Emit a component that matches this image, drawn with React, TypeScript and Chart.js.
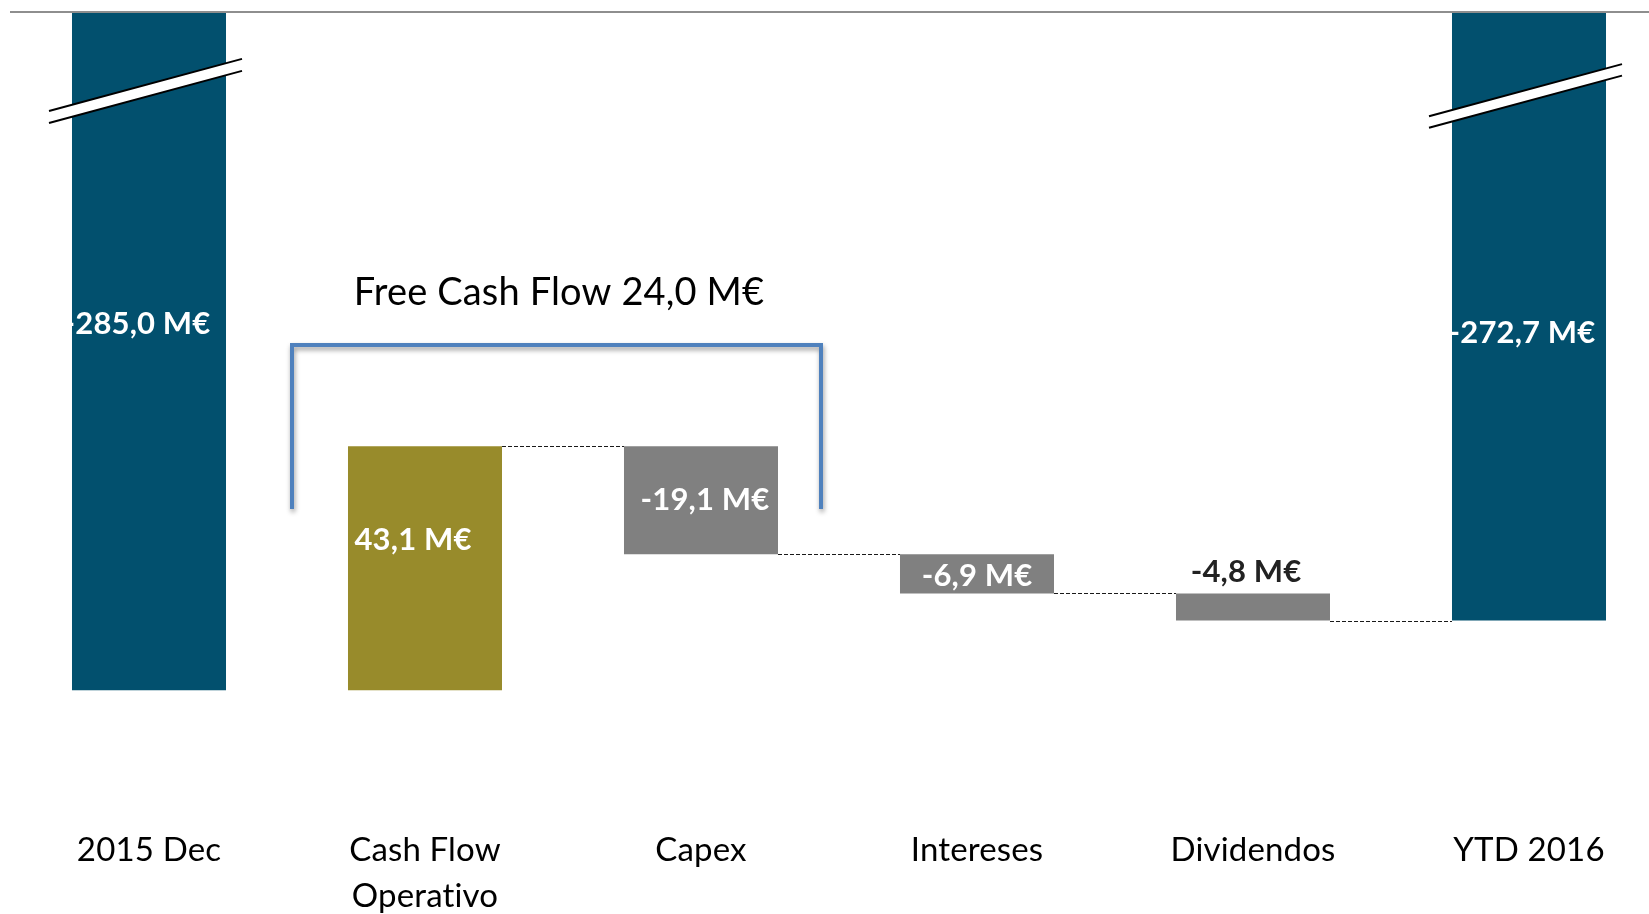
import React, { useEffect, useRef } from "react";
import { Chart, registerables } from "chart.js";

Chart.register(...registerables);

// ---- data ----
const categories: string[][] = [
  ["2015 Dec"],
  ["Cash Flow", "Operativo"],
  ["Capex"],
  ["Intereses"],
  ["Dividendos"],
  ["YTD 2016"],
];
const startValue = -285.0;
const movements = [43.1, -19.1, -6.9, -4.8];
const endValue = -272.7;
const valueLabels = ["-285,0 M€", "43,1 M€", "-19,1 M€", "-6,9 M€", "-4,8 M€", "-272,7 M€"];
const bracketTitle = "Free Cash Flow 24,0 M€";

// visible (broken) value range of the axis
const AXIS_TOP = -165.2;
const AXIS_BOTTOM = -304.4;

// ---- derived floating bars ----
const floatingBars: [number, number][] = [];
const levels: number[] = [];
floatingBars.push([startValue, AXIS_TOP]);
{
  let level = startValue;
  for (const m of movements) {
    floatingBars.push([level, +(level + m).toFixed(1)]);
    level = +(level + m).toFixed(1);
    levels.push(level);
  }
}
floatingBars.push([endValue, AXIS_TOP]);

const NAVY = "#02506E";
const OLIVE = "#988B2B";
const GREY = "#808080";
const barColors = [NAVY, OLIVE, GREY, GREY, GREY, NAVY];

const spacing = {
  id: "spacing",
  beforeDraw(chart: any) {
    // non-zero letter spacing also turns off the "ti" ligature
    (chart.ctx as any).letterSpacing = "0.15px";
  },
};

const overlay = {
  id: "overlay",
  afterDatasetsDraw(chart: any) {
    const { ctx, chartArea, scales } = chart;
    const bars = chart.getDatasetMeta(0).data;
    const y = scales.y;
    ctx.save();

    // top axis line
    ctx.strokeStyle = "#8E8E8E";
    ctx.lineWidth = 2;
    ctx.beginPath();
    ctx.moveTo(chartArea.left - 1, chartArea.top);
    ctx.lineTo(chartArea.right, chartArea.top);
    ctx.stroke();

    // break marks on total bars
    const drawBreak = (bar: any, cy: number, gap: number) => {
      const x1 = bar.x - 100;
      const x2 = bar.x + 93;
      const slope = -0.27;
      const yU = (x: number) => cy - gap / 2 + slope * (x - bar.x);
      ctx.fillStyle = "#ffffff";
      ctx.beginPath();
      ctx.moveTo(x1, yU(x1));
      ctx.lineTo(x2, yU(x2));
      ctx.lineTo(x2, yU(x2) + gap);
      ctx.lineTo(x1, yU(x1) + gap);
      ctx.closePath();
      ctx.fill();
      ctx.strokeStyle = "#000000";
      ctx.lineWidth = 2;
      ctx.beginPath();
      ctx.moveTo(x1, yU(x1));
      ctx.lineTo(x2, yU(x2));
      ctx.moveTo(x1, yU(x1) + gap);
      ctx.lineTo(x2, yU(x2) + gap);
      ctx.stroke();
    };
    drawBreak(bars[0], chartArea.top + 78, 12);
    drawBreak(bars[5], chartArea.top + 83, 11.5);

    // dashed connectors
    ctx.strokeStyle = "#1A1A1A";
    ctx.lineWidth = 1;
    ctx.setLineDash([4, 2]);
    for (let i = 0; i < levels.length; i++) {
      const a = bars[i + 1];
      const b = bars[i + 2];
      const py = Math.round(y.getPixelForValue(levels[i])) + 0.5;
      ctx.beginPath();
      ctx.moveTo(a.x + a.width / 2, py);
      ctx.lineTo(b.x - b.width / 2, py);
      ctx.stroke();
    }
    ctx.setLineDash([]);

    // Free cash flow bracket
    const bl = bars[1].x - 133;
    const br = bars[2].x + 120;
    const bt = chartArea.top + 333;
    const bb = chartArea.top + 497;
    ctx.save();
    ctx.shadowColor = "rgba(0,0,0,0.4)";
    ctx.shadowBlur = 5;
    ctx.shadowOffsetX = 1;
    ctx.shadowOffsetY = 3;
    ctx.strokeStyle = "#4F81BD";
    ctx.lineWidth = 4;
    ctx.lineJoin = "miter";
    ctx.beginPath();
    ctx.moveTo(bl, bb);
    ctx.lineTo(bl, bt);
    ctx.lineTo(br, bt);
    ctx.lineTo(br, bb);
    ctx.stroke();
    ctx.restore();

    ctx.fillStyle = "#000000";
    ctx.font = "38px Lato";
    ctx.textAlign = "center";
    ctx.textBaseline = "middle";
    ctx.fillText(bracketTitle, (bars[1].x + bars[2].x) / 2 - 4, chartArea.top + 281);

    // value labels
    ctx.font = "bold 31px Lato";
    const mid = (b: any) => (b.y + b.base) / 2;
    const top = (b: any) => Math.min(b.y, b.base);
    const pos: [number, number, string][] = [
      [bars[0].x - 12, chartArea.top + 312, "#ffffff"],
      [bars[1].x - 12, mid(bars[1]) - 28, "#ffffff"],
      [bars[2].x + 4, mid(bars[2]), "#ffffff"],
      [bars[3].x, mid(bars[3]) + 2, "#ffffff"],
      [bars[4].x - 7, top(bars[4]) - 21, "#222222"],
      [bars[5].x - 7, chartArea.top + 321, "#ffffff"],
    ];
    pos.forEach(([px, py, col], i) => {
      ctx.fillStyle = col;
      ctx.fillText(valueLabels[i], px, py);
    });

    ctx.restore();
  },
};

export default function App() {
  const ref = useRef<HTMLCanvasElement>(null);
  useEffect(() => {
    const canvas = ref.current!;
    const chart = new Chart(canvas, {
      type: "bar",
      data: {
        labels: categories as any,
        datasets: [
          {
            data: floatingBars as any,
            backgroundColor: barColors,
            borderWidth: 0,
            barPercentage: 0.558,
            categoryPercentage: 1,
          },
        ],
      },
      options: {
        animation: false,
        responsive: false,
        layout: { padding: { left: 11, right: 13, top: 12, bottom: 0 } },
        plugins: {
          legend: { display: false },
          tooltip: { enabled: false },
          title: { display: false },
        },
        scales: {
          x: {
            position: "bottom",
            grid: { display: false, drawTicks: false },
            border: { display: false },
            ticks: {
              color: "#000000",
              font: { family: "Lato", size: 33, lineHeight: "46px" as any },
              padding: 27,
              maxRotation: 0,
              autoSkip: false,
            },
            afterFit: (s: any) => {
              s.height = 130;
            },
          },
          y: { display: false, min: AXIS_BOTTOM, max: AXIS_TOP },
        },
      },
      plugins: [spacing, overlay],
    });
    return () => chart.destroy();
  }, []);

  return (
    <div
      style={{
        position: "fixed",
        left: 0,
        top: 0,
        width: 1649,
        height: 914,
        overflow: "hidden",
        background: "#ffffff",
      }}
    >
      <canvas ref={ref} width={1680} height={930} style={{ display: "block" }} />
    </div>
  );
}
